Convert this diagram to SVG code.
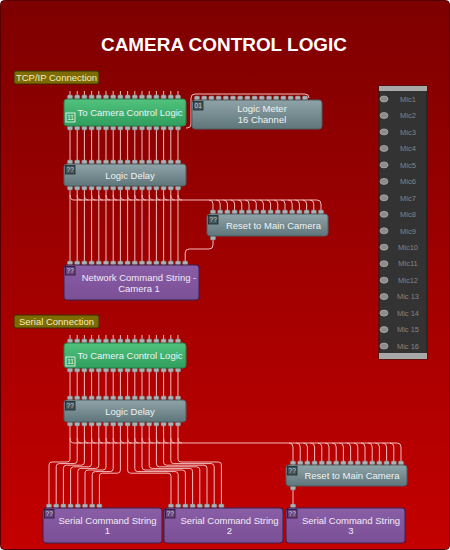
<svg xmlns="http://www.w3.org/2000/svg" xmlns:xlink="http://www.w3.org/1999/xlink" width="450" height="550" viewBox="0 0 450 550">
<style>
text{font-family:"Liberation Sans",Arial,sans-serif}
.bt{font-size:9.5px;fill:#eef3f3;text-anchor:middle}
.pt{font-size:9.5px;fill:#f2eaf6;text-anchor:middle}
.lab{font-size:9.5px;fill:#f3ecc4;text-anchor:middle}
.mic{font-size:7.5px;fill:#858585;text-anchor:middle}
.w{fill:none;stroke:#f2bcbc;stroke-width:1}
.gray{fill:url(#gGray);stroke:#4c5f63;stroke-width:1}
.green{fill:url(#gGreen);stroke:#2a7c4a;stroke-width:1}
.purple{fill:url(#gPurple);stroke:#3a2050;stroke-width:1}
.bdg{fill:#43555a;stroke:#1c2629;stroke-width:0.8}
.bdgp{fill:#684580;stroke:#281634;stroke-width:0.8}
.bt2{font-size:6.5px;text-anchor:middle;fill:#cdd8da}
.ico{fill:#8c8c8c;stroke:#b4b4b4;stroke-width:0.7}
</style>
<defs>
<linearGradient id="gBg" x1="0" y1="0" x2="0" y2="1"><stop offset="0" stop-color="#7e0000"/><stop offset="1" stop-color="#c40000"/></linearGradient>
<linearGradient id="gGray" x1="0" y1="0" x2="0" y2="1"><stop offset="0" stop-color="#8fa4a8"/><stop offset="1" stop-color="#5e757a"/></linearGradient>
<linearGradient id="gGreen" x1="0" y1="0" x2="0" y2="1"><stop offset="0" stop-color="#52c27e"/><stop offset="1" stop-color="#2f9e5e"/></linearGradient>
<linearGradient id="gPurple" x1="0" y1="0" x2="0" y2="1"><stop offset="0" stop-color="#8a5ea6"/><stop offset="1" stop-color="#7a4f96"/></linearGradient>
<rect id="p" x="-2.5" y="0" width="5" height="4" rx="1.2" fill="#a9b3b5" stroke="#7a8688" stroke-width="0.5"/>
<g id="r8">
<use xlink:href="#p" x="70"/><use xlink:href="#p" x="77.2"/><use xlink:href="#p" x="84.4"/><use xlink:href="#p" x="91.6"/><use xlink:href="#p" x="98.8"/><use xlink:href="#p" x="106"/><use xlink:href="#p" x="113.2"/><use xlink:href="#p" x="120.4"/>
</g>
<g id="r16">
<use xlink:href="#r8"/><use xlink:href="#r8" x="57.6"/>
</g>
</defs>

<rect x="0.5" y="0.5" width="449" height="549" rx="4" fill="url(#gBg)" stroke="#560000"/>

<text x="224" y="51" font-size="19" font-weight="bold" fill="#ffffff" text-anchor="middle" textLength="246" lengthAdjust="spacingAndGlyphs">CAMERA CONTROL LOGIC</text>

<g id="label-tcp">
<rect x="14" y="71" width="85" height="13" rx="2" fill="#7d6b00" stroke="#3a2a00"/>
<text class="lab" x="56.5" y="81">TCP/IP Connection</text>
</g>
<g id="label-serial">
<rect x="14" y="315" width="85" height="13" rx="2" fill="#7d6b00" stroke="#3a2a00"/>
<text class="lab" x="56.5" y="325">Serial Connection</text>
</g>

<g id="connectors">
<path class="w" d="M70,91V95M77.2,91V95M84.4,91V95M91.6,91V95M98.8,91V95M106,91V95M113.2,91V95M120.4,91V95M127.6,91V95M134.8,91V95M142,91V95M149.2,91V95M156.4,91V95M163.6,91V95M170.8,91V95M178,91V95"/>
<path class="w" d="M70,335V339M77.2,335V339M84.4,335V339M91.6,335V339M98.8,335V339M106,335V339M113.2,335V339M120.4,335V339M127.6,335V339M134.8,335V339M142,335V339M149.2,335V339M156.4,335V339M163.6,335V339M170.8,335V339M178,335V339"/>
<path class="w" d="M186,128H187Q191,128 191,124V98Q191,94 195,94H305Q309,94 309,98"/>
<path class="w" d="M70,130V160M77.2,130V160M84.4,130V160M91.6,130V160M98.8,130V160M106,130V160M113.2,130V160M120.4,130V160M127.6,130V160M134.8,130V160M142,130V160M149.2,130V160M156.4,130V160M163.6,130V160M170.8,130V160M178,130V160"/>
<path class="w" d="M70,190V261M77.2,190V261M84.4,190V261M91.6,190V261M98.8,190V261M106,190V261M113.2,190V261M120.4,190V261M127.6,190V261M134.8,190V261M142,190V261M149.2,190V261M156.4,190V261M163.6,190V261M170.8,190V261M178,190V261"/>
<path class="w" d="M70,195Q70,200 74,200M77.2,195Q77.2,200 81.2,200M84.4,195Q84.4,200 88.4,200M91.6,195Q91.6,200 95.6,200M98.8,195Q98.8,200 102.8,200M106,195Q106,200 110,200M113.2,195Q113.2,200 117.2,200M120.4,195Q120.4,200 124.4,200M127.6,195Q127.6,200 131.6,200M134.8,195Q134.8,200 138.8,200M142,195Q142,200 146,200M149.2,195Q149.2,200 153.2,200M156.4,195Q156.4,200 160.4,200M163.6,195Q163.6,200 167.6,200M170.8,195Q170.8,200 174.8,200M178,195Q178,200 182,200"/>
<path class="w" d="M74,200H317Q321,200 321,204V210"/>
<path class="w" d="M209,200Q213,200 213,204V210M216.2,200Q220.2,200 220.2,204V210M223.4,200Q227.4,200 227.4,204V210M230.6,200Q234.6,200 234.6,204V210M237.8,200Q241.8,200 241.8,204V210M245,200Q249,200 249,204V210M252.2,200Q256.2,200 256.2,204V210M259.4,200Q263.4,200 263.4,204V210M266.6,200Q270.6,200 270.6,204V210M273.8,200Q277.8,200 277.8,204V210M281,200Q285,200 285,204V210M288.2,200Q292.2,200 292.2,204V210M295.4,200Q299.4,200 299.4,204V210M302.6,200Q306.6,200 306.6,204V210M309.8,200Q313.8,200 313.8,204V210"/>
<path class="w" d="M213,240V245Q213,249 209,249H189.2Q185.2,249 185.2,253V261"/>
<path class="w" d="M70,372V396M77.2,372V396M84.4,372V396M91.6,372V396M98.8,372V396M106,372V396M113.2,372V396M120.4,372V396M127.6,372V396M134.8,372V396M142,372V396M149.2,372V396M156.4,372V396M163.6,372V396M170.8,372V396M178,372V396"/>
<path class="w" d="M70,426V459Q70,462 67,462H52Q49,462 49,465V504M77.2,426V460.6Q77.2,463.6 74.2,463.6H59.2Q56.2,463.6 56.2,466.6V504M84.4,426V462.2Q84.4,465.2 81.4,465.2H66.4Q63.4,465.2 63.4,468.2V504M91.6,426V463.8Q91.6,466.8 88.6,466.8H73.6Q70.6,466.8 70.6,469.8V504M98.8,426V465.4Q98.8,468.4 95.8,468.4H80.8Q77.8,468.4 77.8,471.4V504M106,426V467Q106,470 103,470H88Q85,470 85,473V504M113.2,426V468.6Q113.2,471.6 110.2,471.6H95.2Q92.2,471.6 92.2,474.6V504M120.4,426V470.2Q120.4,473.2 117.4,473.2H102.4Q99.4,473.2 99.4,476.2V504"/>
<path class="w" d="M127.6,426V470.2Q127.6,473.2 130.6,473.2H168Q171,473.2 171,476.2V504M134.8,426V468.6Q134.8,471.6 137.8,471.6H175.2Q178.2,471.6 178.2,474.6V504M142,426V467Q142,470 145,470H182.4Q185.4,470 185.4,473V504M149.2,426V465.4Q149.2,468.4 152.2,468.4H189.6Q192.6,468.4 192.6,471.4V504M156.4,426V463.8Q156.4,466.8 159.4,466.8H196.8Q199.8,466.8 199.8,469.8V504M163.6,426V462.2Q163.6,465.2 166.6,465.2H204Q207,465.2 207,468.2V504M170.8,426V460.6Q170.8,463.6 173.8,463.6H211.2Q214.2,463.6 214.2,466.6V504M178,426V459Q178,462 181,462H218.4Q221.4,462 221.4,465V504"/>
<path class="w" d="M70,438Q70,443 74,443M77.2,438Q77.2,443 81.2,443M84.4,438Q84.4,443 88.4,443M91.6,438Q91.6,443 95.6,443M98.8,438Q98.8,443 102.8,443M106,438Q106,443 110,443M113.2,438Q113.2,443 117.2,443M120.4,438Q120.4,443 124.4,443M127.6,438Q127.6,443 131.6,443M134.8,438Q134.8,443 138.8,443M142,438Q142,443 146,443M149.2,438Q149.2,443 153.2,443M156.4,438Q156.4,443 160.4,443M163.6,438Q163.6,443 167.6,443M170.8,438Q170.8,443 174.8,443M178,438Q178,443 182,443"/>
<path class="w" d="M74,443H397Q401,443 401,447V461"/>
<path class="w" d="M289,443Q293,443 293,447V461M296.2,443Q300.2,443 300.2,447V461M303.4,443Q307.4,443 307.4,447V461M310.6,443Q314.6,443 314.6,447V461M317.8,443Q321.8,443 321.8,447V461M325,443Q329,443 329,447V461M332.2,443Q336.2,443 336.2,447V461M339.4,443Q343.4,443 343.4,447V461M346.6,443Q350.6,443 350.6,447V461M353.8,443Q357.8,443 357.8,447V461M361,443Q365,443 365,447V461M368.2,443Q372.2,443 372.2,447V461M375.4,443Q379.4,443 379.4,447V461M382.6,443Q386.6,443 386.6,447V461M389.8,443Q393.8,443 393.8,447V461"/>
<path class="w" d="M293,490V504"/>
</g>

<g id="to-camera-control-logic-1">
<use xlink:href="#r16" y="95"/>
<use xlink:href="#r16" y="126"/>
<rect class="green" x="64" y="99" width="122" height="27" rx="3"/>
<rect x="66" y="113" width="9" height="9" fill="none" stroke="#e2f6e8" stroke-width="0.9"/>
<text x="70.5" y="120" font-size="6.5" fill="#eef9f1" text-anchor="middle">11</text>
<text class="bt" x="130" y="115.5">To Camera Control Logic</text>
</g>

<g id="logic-meter">
<use xlink:href="#r16" x="127" y="96"/>
<rect class="gray" x="192" y="100" width="130" height="29" rx="3"/>
<rect class="bdg" x="193.5" y="101.5" width="9.5" height="8.5"/>
<text class="bt2" x="198.2" y="108.2">01</text>
<text class="bt" x="262" y="111.5">Logic Meter</text>
<text class="bt" x="262" y="122.5">16 Channel</text>
</g>

<g id="logic-delay-1">
<use xlink:href="#r16" y="160"/>
<use xlink:href="#r16" y="186"/>
<rect class="gray" x="64" y="164" width="122" height="22" rx="3"/>
<rect class="bdg" x="65.5" y="165.5" width="9.5" height="8.5"/>
<text class="bt2" x="70.2" y="172.2">??</text>
<text class="bt" x="130" y="178.5">Logic Delay</text>
</g>

<g id="reset-main-camera-1">
<use xlink:href="#r16" x="143" y="210"/>
<use xlink:href="#p" x="213" y="236"/>
<rect class="gray" x="207" y="214" width="121" height="22" rx="3"/>
<rect class="bdg" x="208.5" y="215.5" width="9.5" height="8.5"/>
<text class="bt2" x="213.2" y="222.2">??</text>
<text class="bt" x="273.5" y="228.5">Reset to Main Camera</text>
</g>

<g id="network-command-string">
<use xlink:href="#r16" y="261"/>
<use xlink:href="#p" x="185.2" y="261"/>
<rect class="purple" x="64" y="265" width="135" height="35" rx="3"/>
<rect class="bdgp" x="65.5" y="266.5" width="9.5" height="8.5"/>
<text class="bt2" x="70.2" y="273.2">??</text>
<text class="pt" x="139" y="280.5">Network Command String -</text>
<text class="pt" x="139" y="291.5">Camera 1</text>
</g>

<g id="mic-panel">
<rect x="379" y="86" width="48" height="273" fill="#333333" stroke="#1e1e1e"/>
<rect x="379" y="86" width="48" height="5" fill="#a8a8a8"/>
<rect x="379" y="353" width="48" height="6" fill="#a8a8a8"/>
<ellipse class="ico" cx="384" cy="99" rx="4" ry="3"/><text class="mic" x="408" y="101.7">Mic1</text>
<ellipse class="ico" cx="384" cy="115.5" rx="4" ry="3"/><text class="mic" x="408" y="118.2">Mic2</text>
<ellipse class="ico" cx="384" cy="131.9" rx="4" ry="3"/><text class="mic" x="408" y="134.6">Mic3</text>
<ellipse class="ico" cx="384" cy="148.4" rx="4" ry="3"/><text class="mic" x="408" y="151.1">Mic4</text>
<ellipse class="ico" cx="384" cy="164.9" rx="4" ry="3"/><text class="mic" x="408" y="167.6">Mic5</text>
<ellipse class="ico" cx="384" cy="181.4" rx="4" ry="3"/><text class="mic" x="408" y="184.1">Mic6</text>
<ellipse class="ico" cx="384" cy="197.8" rx="4" ry="3"/><text class="mic" x="408" y="200.5">Mic7</text>
<ellipse class="ico" cx="384" cy="214.3" rx="4" ry="3"/><text class="mic" x="408" y="217">Mic8</text>
<ellipse class="ico" cx="384" cy="230.8" rx="4" ry="3"/><text class="mic" x="408" y="233.5">Mic9</text>
<ellipse class="ico" cx="384" cy="247.2" rx="4" ry="3"/><text class="mic" x="408" y="249.9">Mic10</text>
<ellipse class="ico" cx="384" cy="263.7" rx="4" ry="3"/><text class="mic" x="408" y="266.4">Mic11</text>
<ellipse class="ico" cx="384" cy="280.2" rx="4" ry="3"/><text class="mic" x="408" y="282.9">Mic12</text>
<ellipse class="ico" cx="384" cy="296.6" rx="4" ry="3"/><text class="mic" x="408" y="299.3">Mic 13</text>
<ellipse class="ico" cx="384" cy="313.1" rx="4" ry="3"/><text class="mic" x="408" y="315.8">Mic 14</text>
<ellipse class="ico" cx="384" cy="329.6" rx="4" ry="3"/><text class="mic" x="408" y="332.3">Mic 15</text>
<ellipse class="ico" cx="384" cy="346" rx="4" ry="3"/><text class="mic" x="408" y="348.7">Mic 16</text>
</g>

<g id="to-camera-control-logic-2">
<use xlink:href="#r16" y="339"/>
<use xlink:href="#r16" y="368"/>
<rect class="green" x="64" y="343" width="122" height="25" rx="3"/>
<rect x="66" y="357" width="9" height="9" fill="none" stroke="#e2f6e8" stroke-width="0.9"/>
<text x="70.5" y="364" font-size="6.5" fill="#eef9f1" text-anchor="middle">11</text>
<text class="bt" x="130" y="358.5">To Camera Control Logic</text>
</g>

<g id="logic-delay-2">
<use xlink:href="#r16" y="396"/>
<use xlink:href="#r16" y="422"/>
<rect class="gray" x="64" y="400" width="122" height="22" rx="3"/>
<rect class="bdg" x="65.5" y="401.5" width="9.5" height="8.5"/>
<text class="bt2" x="70.2" y="408.2">??</text>
<text class="bt" x="130" y="414.5">Logic Delay</text>
</g>

<g id="reset-main-camera-2">
<use xlink:href="#r16" x="223" y="461"/>
<use xlink:href="#p" x="293" y="486"/>
<rect class="gray" x="286" y="465" width="121" height="21" rx="3"/>
<rect class="bdg" x="287.5" y="466.5" width="9.5" height="8.5"/>
<text class="bt2" x="292.2" y="473.2">??</text>
<text class="bt" x="352" y="479">Reset to Main Camera</text>
</g>

<g id="serial-command-string-1">
<use xlink:href="#r8" x="-21" y="504"/>
<rect class="purple" x="43" y="508" width="119" height="35" rx="3"/>
<rect class="bdgp" x="44.5" y="509.5" width="9.5" height="8.5"/>
<text class="bt2" x="49.2" y="516.2">??</text>
<text class="pt" x="107.5" y="523.5">Serial Command String</text>
<text class="pt" x="107.5" y="534">1</text>
</g>

<g id="serial-command-string-2">
<use xlink:href="#r8" x="101" y="504"/>
<rect class="purple" x="164" y="508" width="119" height="35" rx="3"/>
<rect class="bdgp" x="165.5" y="509.5" width="9.5" height="8.5"/>
<text class="bt2" x="170.2" y="516.2">??</text>
<text class="pt" x="229.5" y="523.5">Serial Command String</text>
<text class="pt" x="229.5" y="534">2</text>
</g>

<g id="serial-command-string-3">
<use xlink:href="#p" x="293" y="504"/>
<rect class="purple" x="286" y="508" width="119" height="35" rx="3"/>
<rect class="bdgp" x="287.5" y="509.5" width="9.5" height="8.5"/>
<text class="bt2" x="292.2" y="516.2">??</text>
<text class="pt" x="351" y="523.5">Serial Command String</text>
<text class="pt" x="351" y="534">3</text>
</g>
</svg>
